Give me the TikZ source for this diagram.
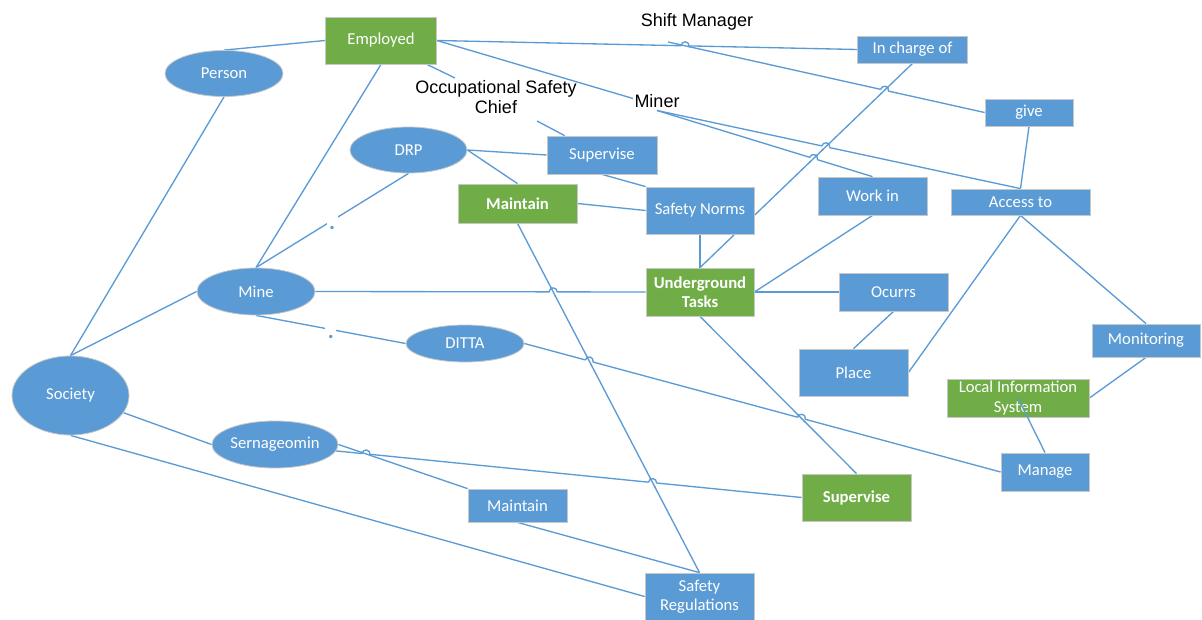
\documentclass[tikz,border=0pt]{standalone}
\usepackage{fontspec}
\setmainfont{Carlito}
\newfontfamily\arialf{Liberation Sans}
\usetikzlibrary{shapes.geometric,calc,intersections,backgrounds}
\definecolor{obl}{HTML}{5B9BD5}
\definecolor{ogr}{HTML}{70AD47}
\definecolor{oln}{HTML}{5B9BD5}
\tikzset{
  sz/.style 2 args={minimum width=#1*0.75pt, minimum height=#2*0.75pt},
  nd/.style={draw=black!22, line width=0.6pt, text=white, font=\fontsize{12.5}{14.5}\selectfont, align=center, inner sep=0pt},
  bbox/.style={nd, rectangle, fill=obl},
  gbox/.style={nd, rectangle, fill=ogr},
  ebox/.style={nd, ellipse, fill=obl},
  strongtext/.style={font=\bfseries\fontsize{12.5}{14.5}\selectfont},
  lbl/.style={font=\arialf\fontsize{13.5}{15}\selectfont, align=center, inner sep=1pt, text=black},
  conn/.style={draw=oln, line width=1pt},
  gapdot/.style={fill=white, inner sep=0pt, text height=14pt, text depth=0pt, minimum width=8pt, text=oln, font=\bfseries\fontsize{17}{17}\selectfont},
}
\newcommand{\linehop}[6]{%
  \path[name intersections={of=#5 and #6, by=hx}];
  \fill[white] (hx) circle[radius=3pt];
  \draw[conn] ($(hx)!4pt!(#3)$) -- ($(hx)!4pt!(#4)$);
  \draw[conn] let \p1=($(#2)-(#1)$), \n1={atan2(\y1,\x1)} in ($(hx)!3pt!(#1)$) arc[start angle=\n1+180, end angle=\n1, radius=3pt];
}
\begin{document}
\begin{tikzpicture}[x=0.75pt,y=0.75pt]
\useasboundingbox (0,0) rectangle (1202,-620);
% nodes
\node[gbox, sz={111}{47}] (Employed) at (381,-40.5) {Employed};
\node[ebox, sz={118}{46}] (Person) at (224,-73.5) {Person};
\node[bbox, sz={110}{27}] (InCharge) at (912.5,-49.5) {In charge of};
\node[bbox, sz={88}{27}] (give) at (1029,-112.5) {give};
\node[ebox, sz={117}{46}] (DRP) at (408.5,-150) {DRP};
\node[bbox, sz={110}{38}] (SupB) at (602,-155) {Supervise};
\node[gbox, strongtext, sz={119}{39}] (MntG) at (517.5,-203.5) {Maintain};
\node[bbox, sz={108}{47}] (SNorms) at (700,-210.5) {Safety Norms};
\node[bbox, sz={109}{38}] (WorkIn) at (872.5,-196) {Work in};
\node[bbox, sz={139}{26}] (Access) at (1020.5,-202) {Access to};
\node[ebox, sz={118}{47}] (Mine) at (256,-291.5) {Mine};
\node[gbox, strongtext, sz={108}{48}] (UT) at (700,-292) {Underground\\Tasks};
\node[bbox, sz={109}{38}] (Ocurrs) at (893.5,-292) {Ocurrs};
\node[bbox, sz={109}{47}] (Place) at (853.5,-372.5) {Place};
\node[bbox, sz={108}{33}] (Monitor) at (1146,-340.5) {Monitoring};
\node[ebox, sz={118}{37}] (DITTA) at (465,-343.5) {DITTA};
\node[gbox, sz={142}{38}] (LIS) at (1018,-398) {Local Information\\System};
\node[ebox, sz={117}{79}] (Society) at (70.5,-395.5) {Society};
\node[ebox, sz={116}{47}] (Sern) at (275,-444.5) {Sernageomin};
\node[bbox, sz={88}{38}] (Manage) at (1045,-472) {Manage};
\node[gbox, strongtext, sz={109}{47}] (SupG) at (856.5,-497.5) {Supervise};
\node[bbox, sz={99}{33}] (MntB) at (517.5,-505.5) {Maintain};
\node[bbox, sz={109}{47}] (SReg) at (699.5,-596.5) {Safety\\Regulations};
% text labels
\node[lbl, anchor=base] (Shift) at (697,-27) {Shift Manager};
\node[lbl] (OSC) at (496,-97.5) {Occupational Safety\\Chief};
\node[lbl] (Miner) at (657,-101.5) {Miner};
% helper coordinates
\coordinate (shA) at ($(Shift.base)+(-29,-15)$);
\coordinate (osA) at ($(OSC.center)+(-41,19.5)$);
\coordinate (osB) at ($(OSC.center)+(41,-23.5)$);
\coordinate (miA) at ($(Miner.center)+(-24,3)$);
\coordinate (miB) at ($(Miner.center)+(0,-9)$);
\coordinate (emA) at ($(Employed.south east)+(-10,0)$);
\coordinate (supA) at ($(SupB.north west)+(18,0)$);
\begin{pgfonlayer}{background}
\fill[white] (0,0) rectangle (1202,-620);
\draw[conn] (Person.north) -- (Employed.west);
\draw[conn] (Person.south) -- (Society.north);
\draw[conn] (Employed.south) -- (Mine.north);
\draw[conn, name path=EI] (Employed.east) -- (InCharge.west);
\draw[conn] (Employed.east) -- (miA);
\draw[conn] (emA) -- (osA);
\draw[conn] (osB) -- (supA);
\draw[conn, name path=SG] (shA) -- (give.west);
\draw[conn, name path=MW] (miB) -- (WorkIn.north);
\draw[conn, name path=MA] (miB) -- (Access.north);
\draw[conn] (give.south) -- (Access.north);
\draw[conn, name path=IU] (InCharge.south) -- (UT.north);
\draw[conn] (DRP.east) -- (SupB.west);
\draw[conn] (DRP.east) -- (MntG.north);
\draw[conn] (SupB.south) -- (SNorms.north west);
\draw[conn] (MntG.east) -- (SNorms.west);
\draw[conn] (SNorms.south) -- (UT.north);
\draw[conn, name path=MS] (MntG.south) -- (SReg.north);
\draw[conn] (DRP.south) -- node[gapdot]{.} (Mine.north);
\draw[conn, name path=MU] (Mine.east) -- (UT.west);
\draw[conn] (Mine.south) -- node[gapdot]{.} (DITTA.west);
\draw[conn] (Mine.west) -- (Society.north);
\draw[conn] (UT.east) -- (Ocurrs.west);
\draw[conn] (UT.east) -- (WorkIn.south);
\draw[conn, name path=US] (UT.south) -- (SupG.north);
\draw[conn] (Ocurrs.south) -- (Place.north);
\draw[conn] (Place.east) -- (Access.south);
\draw[conn] (Access.south) -- (Monitor.north);
\draw[conn] (Monitor.south) -- (LIS.east);
\draw[conn, name path=DM] (DITTA.east) -- (Manage.west);
\draw[conn] (Society.-18) -- (Sern.west);
\draw[conn] (Society.south) -- (SReg.west);
\draw[conn, name path=SS] (Sern.-6) -- (SupG.west);
\draw[conn, name path=SM] (Sern.east) -- (MntB.north west);
\draw[conn] (MntB.south) -- (SReg.north);
% line hops
\linehop{Employed.east}{InCharge.west}{shA}{give.west}{EI}{SG}
\linehop{shA}{give.west}{InCharge.south}{UT.north}{SG}{IU}
\linehop{miB}{Access.north}{InCharge.south}{UT.north}{MA}{IU}
\linehop{miB}{WorkIn.north}{InCharge.south}{UT.north}{MW}{IU}
\linehop{Mine.east}{UT.west}{MntG.south}{SReg.north}{MU}{MS}
\linehop{DITTA.east}{Manage.west}{MntG.south}{SReg.north}{DM}{MS}
\linehop{Sern.-6}{SupG.west}{MntG.south}{SReg.north}{SS}{MS}
\linehop{DITTA.east}{Manage.west}{UT.south}{SupG.north}{DM}{US}
\linehop{Sern.-6}{SupG.west}{Sern.east}{MntB.north west}{SS}{SM}
\end{pgfonlayer}
\draw[conn] (Manage.north) -- (LIS.center);
\end{tikzpicture}
\end{document}
